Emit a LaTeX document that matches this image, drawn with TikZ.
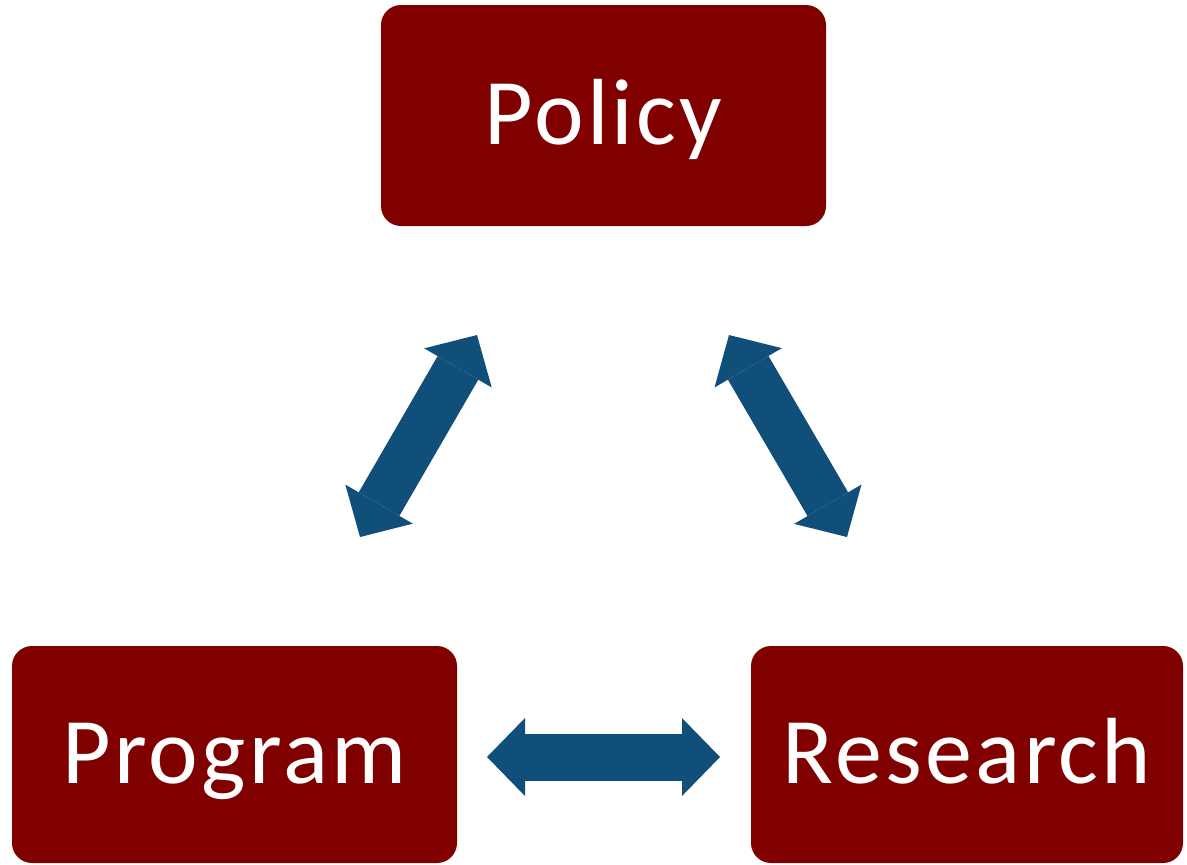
\documentclass[tikz,border=0pt]{standalone}
\usepackage{fontspec}
\setmainfont{Carlito}
\newfontfamily\rotulo[LetterSpace=3.5]{Carlito}
\usepackage{xcolor}
\usepackage{tikz}
\usetikzlibrary{arrows.meta}
\definecolor{caixa}{HTML}{800000}
\definecolor{seta}{HTML}{104F7A}

\begin{document}
\begin{tikzpicture}[x=0.5pt, y=-0.5pt,
  bloco/.style={fill=caixa, rounded corners=10pt, inner sep=0pt,
    text=white, font=\rotulo\fontsize{47}{56}\selectfont,
    text height=31pt, text depth=2pt},
  duplaseta/.style={draw=seta, line width=23.5pt,
    {Triangle[length=19pt, width=39pt, line width=0pt]}-{Triangle[length=19pt, width=39pt, line width=0pt]}}]
  \useasboundingbox (0,0) rectangle (1187,864);
  % caixas
  \node[bloco, minimum width=222.5pt, minimum height=110.5pt] (policy) at (603.5,115.5) {Policy};
  \node[bloco, minimum width=222.5pt, minimum height=108.5pt] (program) at (234.5,754.5) {Program};
  \node[bloco, minimum width=216pt, minimum height=108.5pt] (research) at (967,754.5) {Research};
  % pontas das setas
  \coordinate (pl1) at (360,537);
  \coordinate (pl2) at (477,335);
  \coordinate (pr1) at (729,335);
  \coordinate (pr2) at (847,537);
  \coordinate (ph1) at (487,757);
  \coordinate (ph2) at (720,757);
  % setas
  \draw[duplaseta] (pl1) -- (pl2);
  \draw[duplaseta] (pr1) -- (pr2);
  \draw[duplaseta] (ph1) -- (ph2);
\end{tikzpicture}
\end{document}
